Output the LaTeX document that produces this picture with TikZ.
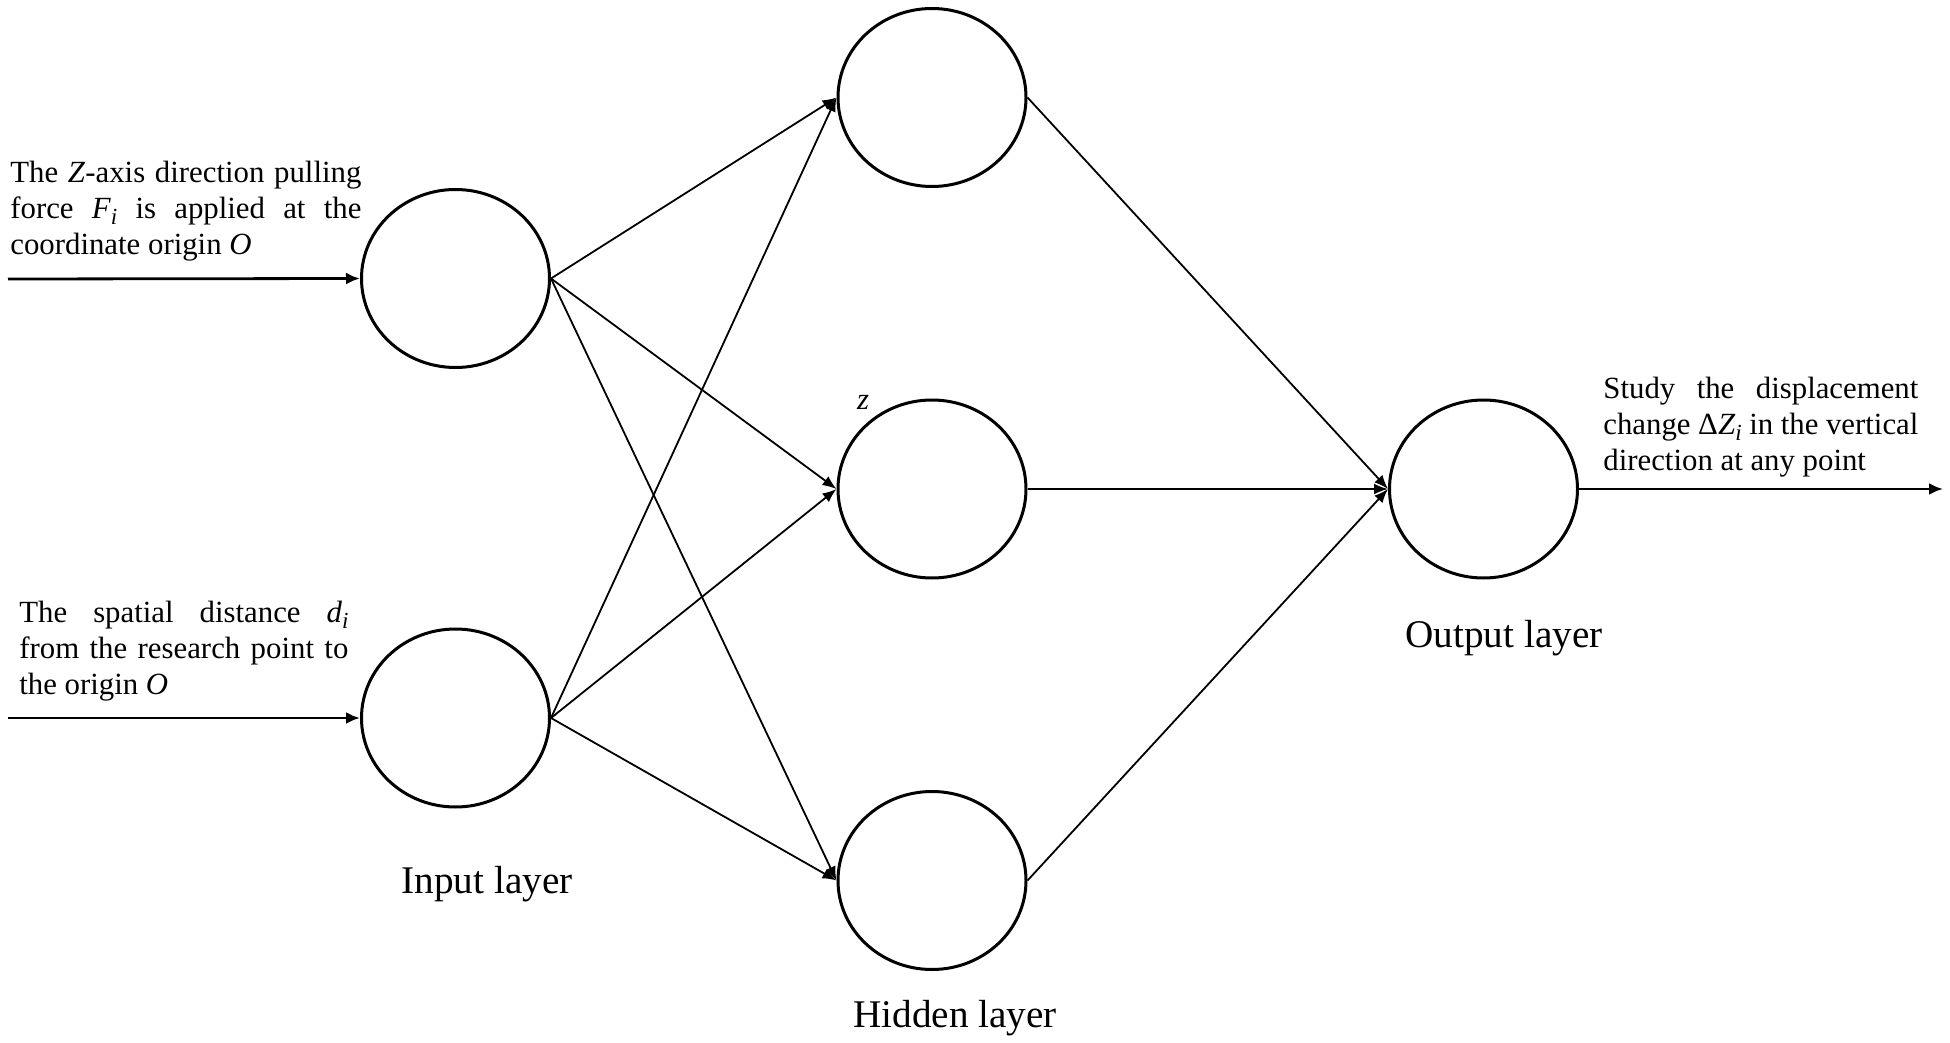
\documentclass[tikz,border=0pt]{standalone}
\usepackage{fontspec}
\setmainfont{Liberation Serif}
\usetikzlibrary{shapes.geometric,arrows.meta}
\newcommand{\subi}{\raisebox{-0.18em}{\fontsize{11.5}{11.5}\selectfont\textit{i}}}
\begin{document}
\begin{tikzpicture}[x=0.5pt,y=-0.5pt,
  neuron/.style={draw,ellipse,line width=1.5pt,minimum width=94pt,minimum height=89pt,inner sep=0pt},
  link/.style={line width=0.9pt,-{Latex[length=7pt,width=5.5pt]}},
  inarrow/.style={line width=1.4pt,-{Latex[length=7pt,width=6pt]}},
  desc/.style={font=\fontsize{15.4}{18}\selectfont,align=justify,inner sep=0pt,anchor=north west},
  lay/.style={font=\fontsize{19.6}{22}\selectfont,inner sep=0pt,anchor=base}]
\useasboundingbox (0,0) rectangle (1950,1043);

% neurons
\node[neuron] (in1) at (455.5,278.5) {};
\node[neuron] (in2) at (455.5,718) {};
\node[neuron] (h1) at (932,97.5) {};
\node[neuron] (h2) at (932,489) {};
\node[neuron] (h3) at (932,880.5) {};
\node[neuron] (out) at (1483.5,489) {};

% external ends
\coordinate (s1) at (8,279);
\coordinate (s2) at (8,718);
\coordinate (e1) at (1943,489);

% texts
\node[desc,text width=175.5pt] (t1) at (10,161) {The \textit{Z}-axis direction pulling\linebreak force \textit{F}\subi{} is applied at the\linebreak coordinate origin \textit{O}};
\node[desc,text width=164.5pt] (t2) at (19,601) {The spatial distance \textit{d}\subi\linebreak from the research point to\linebreak the origin \textit{O}};
\node[desc,text width=157.5pt] (t3) at (1603,377) {Study the displacement\linebreak change Δ\textit{Z}\subi{} in the vertical\linebreak direction at any point};
\node[font=\fontsize{15.4}{18}\selectfont\itshape,inner sep=0pt] (zl) at (863,402) {z};

\node[lay] (l1) at (487,893) {Input layer};
\node[lay] (l2) at (955,1027) {Hidden layer};
\node[lay] (l3) at (1504,647) {Output layer};

% connectors
\draw[inarrow] (s1) -- (in1.west);
\draw[inarrow] (s2) -- (in2.west);
\draw[inarrow] (out.east) -- (e1);
\foreach \a in {in1,in2}{
  \foreach \b in {h1,h2,h3}{
    \draw[link] (\a.east) -- (\b.west);
  }
}
\foreach \b in {h1,h2,h3}{
  \draw[link] (\b.east) -- (out.west);
}
\end{tikzpicture}
\end{document}
